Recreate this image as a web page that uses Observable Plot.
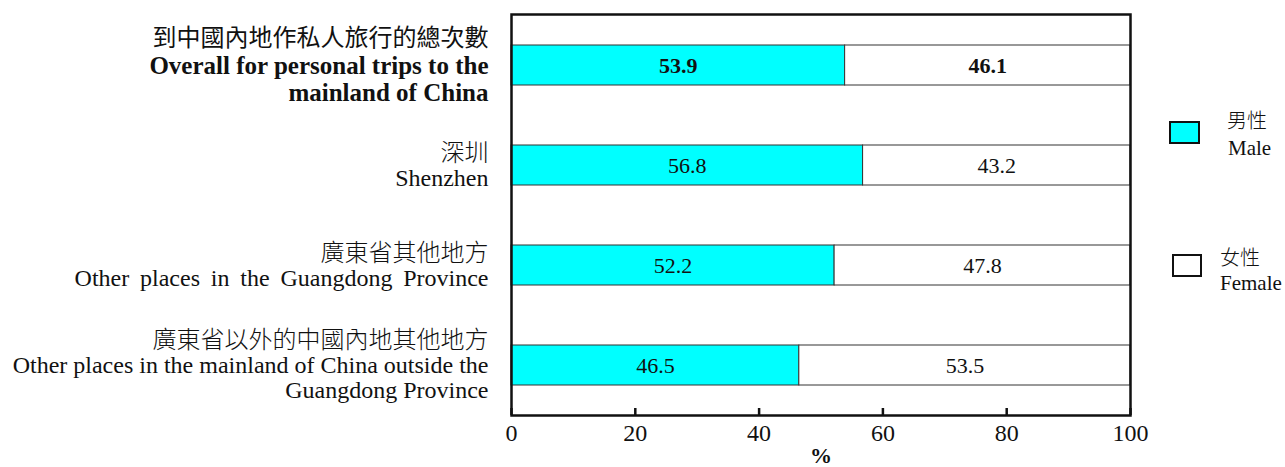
<!DOCTYPE html>
<html>
<head>
<meta charset="utf-8">
<script src="https://cdn.jsdelivr.net/npm/d3@7"></script>
<script src="https://cdn.jsdelivr.net/npm/@observablehq/plot@0.6"></script>
<style>
  html, body { margin: 0; padding: 0; background: #fff; }
  #wrap { position: relative; width: 1285px; height: 467px; }
  .lg { position: absolute; line-height: 1; white-space: nowrap; color: #111; }
  .box { position: absolute; border: 2px solid #111; box-sizing: border-box; }
  .zh { font-family: "Noto Sans CJK TC", sans-serif; font-size: 20px; font-weight: 300; }
  .en { font-family: "Liberation Serif", serif; font-size: 21px; }
</style>
</head>
<body>
<div id="wrap"></div>
<script>
// ---- data ----
const categories = ["到中國內地作私人旅行的總次數", "深圳", "廣東省其他地方", "廣東省以外的中國內地其他地方"];
const categoriesEnglish = [
  ["Overall for personal trips to the", "mainland of China"],
  ["Shenzhen"],
  ["Other \u2009places \u2009in \u2009the \u2009Guangdong \u2009Province"],
  ["Other places in the mainland of China outside the", "Guangdong Province"]
];
const male = [53.9, 56.8, 52.2, 46.5];
const female = [46.1, 43.2, 47.8, 53.5];
const seriesNames = ["男性", "女性"];
const seriesEnglish = ["Male", "Female"];
const xTicks = [0, 20, 40, 60, 80, 100];
const xLabel = "%";

// ---- build table ----
const rows = [];
categories.forEach((c, i) => {
  rows.push({cat: c, sex: seriesNames[0], value: male[i], i});
  rows.push({cat: c, sex: seriesNames[1], value: female[i], i});
});

const serif = "Liberation Serif, serif";
const cjk = "Noto Sans CJK TC, sans-serif";
const labelMarks = [];
categories.forEach((c, i) => {
  const lines = [c, ...categoriesEnglish[i]];
  const n = lines.length;
  const lh = i === 0 ? 27 : 25;
  lines.forEach((ln, j) => {
    labelMarks.push(Plot.text([c], {
      y: d => d,
      frameAnchor: "left",
      dx: -23,
      dy: (j - (n - 1) / 2) * lh,
      text: () => ln,
      textAnchor: "end",
      lineAnchor: "middle",
      fontSize: (i === 0 && j > 0) ? 25 : 24,
      fontFamily: j === 0 ? cjk : serif,
      fontWeight: j === 0 ? (i === 0 ? "normal" : 300) : (i === 0 ? "bold" : "normal"),
      fill: "#111"
    }));
  });
});

const valueText = (bold) => Plot.text(rows, Plot.stackX({
  x: "value", y: "cat", z: "sex", order: seriesNames,
  text: d => (bold === (d.i === 0)) ? d.value.toFixed(1) : null,
  fontSize: 22,
  fontFamily: serif,
  fontWeight: bold ? "bold" : "normal",
  fill: "#111",
  lineAnchor: "middle"
}));

const chart = Plot.plot({
  width: 1285,
  height: 467,
  marginLeft: 511,
  marginRight: 155,
  marginTop: 14,
  marginBottom: 52,
  style: {fontFamily: serif, background: "#fff", color: "#111"},
  x: {domain: [0, 100], ticks: xTicks},
  y: {domain: categories, paddingInner: 0.6, paddingOuter: 0.3, axis: null},
  color: {domain: seriesNames, range: ["#00ffff", "#ffffff"]},
  marks: [
    Plot.barX(rows, Plot.stackX({x: "value", y: "cat", z: "sex", fill: "sex", stroke: "#333", strokeWidth: 1, order: seriesNames})),
    valueText(true),
    valueText(false),
    Plot.frame({stroke: "#111", strokeWidth: 2.5}),
    Plot.tickX(xTicks, {x: d => d, insetTop: 394, stroke: "#111", strokeWidth: 2.5}),
    Plot.axisX({ticks: xTicks, tickSize: 0, tickPadding: 8, fontSize: 24, fontFamily: serif, label: null, fill: "#111"}),
    Plot.text([xLabel], {frameAnchor: "bottom", text: d => d, dy: 40, fontSize: 22, fontFamily: serif, fontWeight: "bold", fill: "#111", lineAnchor: "middle"}),
    ...labelMarks
  ]
});

const wrap = document.getElementById("wrap");
wrap.appendChild(chart);

// ---- legend (HTML overlay, right side) ----
const legendSpec = [
  {fill: "#00ffff", box: [1169, 121, 31, 23], zh: [1227, 110], en: [1228, 138]},
  {fill: "#ffffff", box: [1172, 254, 30, 23], zh: [1220, 247], en: [1220, 273]}
];
seriesNames.forEach((s, k) => {
  const L = legendSpec[k];
  const b = document.createElement("div");
  b.className = "box";
  b.style.left = L.box[0] + "px"; b.style.top = L.box[1] + "px";
  b.style.width = L.box[2] + "px"; b.style.height = L.box[3] + "px";
  b.style.background = L.fill;
  wrap.appendChild(b);
  const z = document.createElement("div");
  z.className = "lg zh"; z.textContent = s;
  z.style.left = L.zh[0] + "px"; z.style.top = L.zh[1] + "px";
  wrap.appendChild(z);
  const e = document.createElement("div");
  e.className = "lg en"; e.textContent = seriesEnglish[k];
  e.style.left = L.en[0] + "px"; e.style.top = L.en[1] + "px";
  wrap.appendChild(e);
});
</script>
</body>
</html>
